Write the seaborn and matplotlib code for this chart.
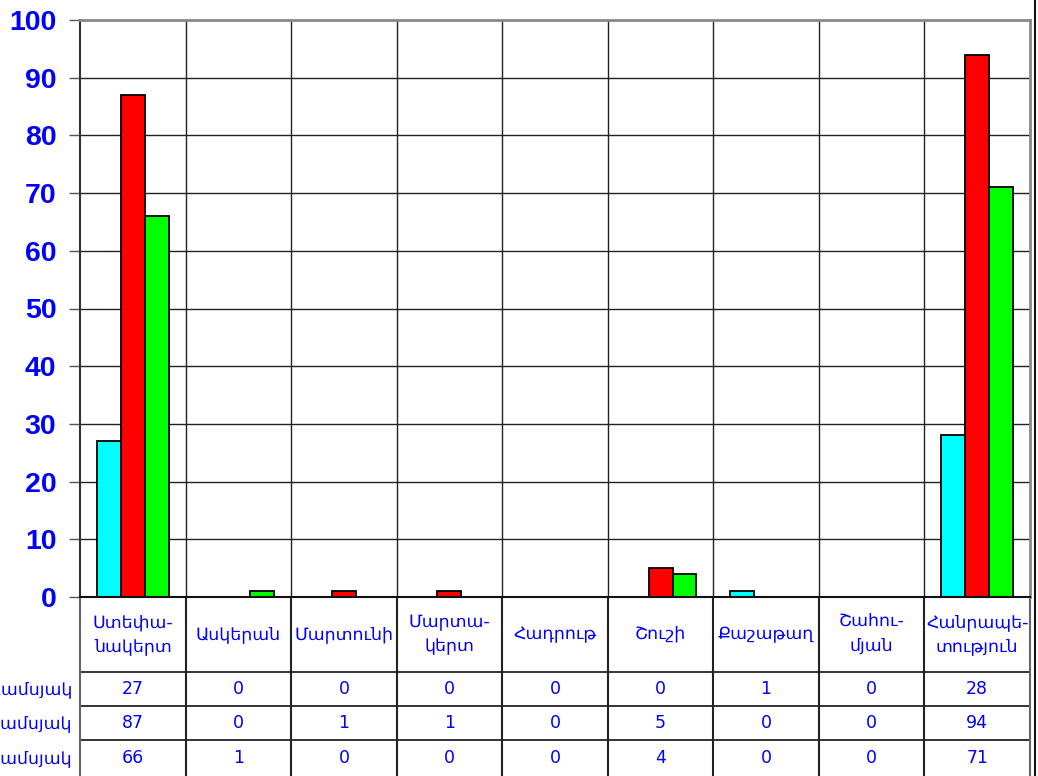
import matplotlib
matplotlib.use("Agg")
import matplotlib.pyplot as plt
import matplotlib.transforms as mtransforms
import pandas as pd
import seaborn as sns

regions = ["Ստեփա-\nնակերտ", "Ասկերան", "Մարտունի", "Մարտա-\nկերտ", "Հադրութ",
           "Շուշի", "Քաշաթաղ", "Շահու-\nմյան", "Հանրապե-\nտություն"]
quarters = ["I եռամսյակ", "II եռամսյակ", "III եռամսյակ"]
q1 = [27, 0, 0, 0, 0, 0, 1, 0, 28]
q2 = [87, 0, 1, 1, 0, 5, 0, 0, 94]
q3 = [66, 1, 0, 0, 0, 4, 0, 0, 71]
colors = ["#00FFFF", "#FF0000", "#00FF00"]
yticks = list(range(0, 101, 10))

BLUE = "#0000FF"


def main() -> None:
    rows = []
    for q, vals in zip(quarters, [q1, q2, q3]):
        for r, v in zip(regions, vals):
            rows.append({"region": r, "quarter": q, "value": v})
    df = pd.DataFrame(rows)

    sns.set_style("white")
    plt.rcParams["font.family"] = ["DejaVu Sans"]

    W, H = 1038, 776
    fig = plt.figure(figsize=(W / 100, H / 100), dpi=100)
    left, right, top, bottom = 80, 1030, 20, 597
    ax = fig.add_axes([left / W, 1 - bottom / H, (right - left) / W, (bottom - top) / H])

    sns.barplot(data=df, x="region", y="value", hue="quarter", order=regions,
                hue_order=quarters, palette=colors, width=0.68, edgecolor="black",
                linewidth=1.3, saturation=1, legend=False, ax=ax)

    ax.set_xlim(-0.5, len(regions) - 0.5)
    ax.set_ylim(0, 100)
    ax.set_yticks(yticks)
    ax.set_yticklabels([str(t) for t in yticks], color=BLUE, fontweight="bold",
                       fontsize=20.5, family="Liberation Sans")
    ax.tick_params(axis="y", direction="out", length=8, width=1, color="#555555", pad=9, left=True)
    ax.set_xticks([])
    ax.set_xlabel("")
    ax.set_ylabel("")

    # grid lines
    for t in yticks[1:-1]:
        ax.axhline(t, color="#222222", lw=1, zorder=0)
    for i in range(len(regions) - 1):
        ax.axvline(i + 0.5, color="#222222", lw=1, zorder=0)
    for side in ["top", "right"]:
        ax.spines[side].set_color("#888888")
        ax.spines[side].set_linewidth(2)
    ax.spines["left"].set_color("#333333")
    ax.spines["left"].set_linewidth(1.5)
    ax.spines["bottom"].set_color("#111111")
    ax.spines["bottom"].set_linewidth(1.5)

    # data table below the axes
    trans = mtransforms.blended_transform_factory(ax.transData, ax.transAxes)
    ph = bottom - top
    def yf(px):
        return -(px - bottom) / ph
    row_lines = [672, 706, 740]
    row_centers = [689, 723, 758]
    for y in row_lines:
        ax.plot([-0.5, len(regions) - 0.5], [yf(y), yf(y)], transform=trans,
                color="#111111", lw=1.2, clip_on=False)
    for i in range(len(regions) + 1):
        x = i - 0.5
        color = "#666666" if i in (0, len(regions)) else "#222222"
        ax.plot([x, x], [0, yf(H + 5)], transform=trans, color=color,
                lw=1.5, clip_on=False)
    for i, r in enumerate(regions):
        ax.text(i, yf(634), r, transform=trans, ha="center", va="center",
                color=BLUE, fontsize=12.5, linespacing=1.4)
    for q, vals, yc in zip(quarters, [q1, q2, q3], row_centers):
        for i, v in enumerate(vals):
            ax.text(i, yf(yc), str(v), transform=trans, ha="center", va="center",
                    color=BLUE, fontsize=12.5)
        fig.text(72 / W, 1 - yc / H, q, ha="right", va="center", color=BLUE, fontsize=12.5)

    # outer frame line on the right
    fig.add_artist(plt.Line2D([1035 / W, 1035 / W], [0, 1], color="#111111", lw=1.5))

    fig.savefig("out.png", dpi=100)


if __name__ == "__main__":
    main()
